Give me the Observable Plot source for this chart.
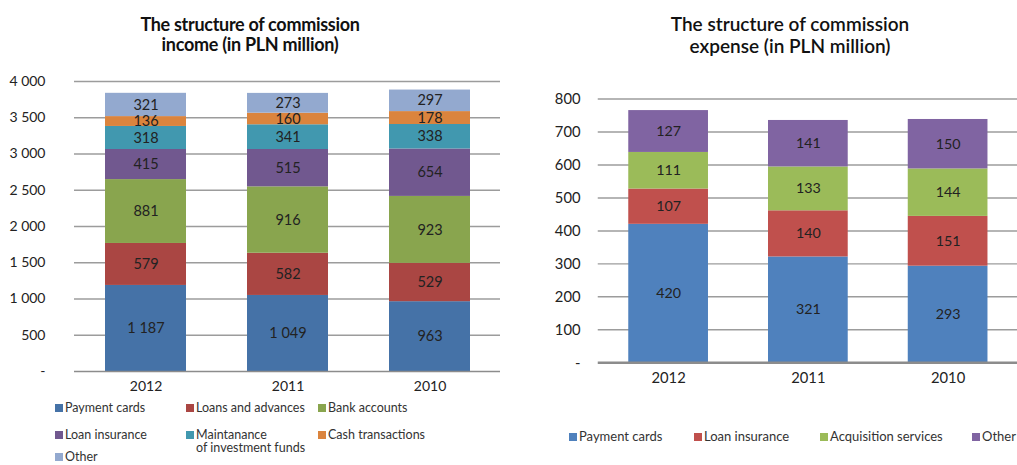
<!DOCTYPE html>
<html><head><meta charset="utf-8">
<script src="https://cdn.jsdelivr.net/npm/d3@7"></script>
<script src="https://cdn.jsdelivr.net/npm/@observablehq/plot@0.6"></script>
<style>
body{margin:0;background:#fff;overflow:hidden;font-family:Lato,sans-serif;}
#wrap{position:relative;width:1017px;height:465px;overflow:hidden;}
.title{position:absolute;top:14px;text-align:center;font-weight:bold;font-size:18px;line-height:20px;color:#111;letter-spacing:-0.3px;}
.chart{position:absolute;top:70px;}
.leg{position:absolute;font-size:12.5px;color:#333;line-height:13px;white-space:nowrap;}
.sw{position:absolute;left:-10px;top:3px;width:8px;height:8px;}
</style></head>
<body>
<div id="wrap">
  <div class="title" style="left:0;width:500px;">The structure of commission<br>income (in PLN million)</div>
  <div class="title" style="left:560px;width:460px;top:13px;font-size:19px;line-height:22px;font-weight:600;letter-spacing:0;">The structure of commission<br>expense (in PLN million)</div>
  <div class="chart" id="left" style="left:0;"></div>
  <div class="chart" id="right" style="left:520px;width:497px;overflow:hidden;"></div>
</div>
<script>
// ---- data ----
const years = ["2012", "2011", "2010"];

const incomeSeries = ["Payment cards", "Loans and advances", "Bank accounts", "Loan insurance", "Maintanance of investment funds", "Cash transactions", "Other"];
const incomeLegendLabels = ["Payment cards", "Loans and advances", "Bank accounts", "Loan insurance", "Maintanance<br>of investment funds", "Cash transactions", "Other"];
const incomeColors = ["#4572A7", "#AA4643", "#89A54E", "#71588F", "#4198AF", "#DB843D", "#93A9CF"];
const incPaymentCards = [1187, 1049, 963];
const incLoansAdvances = [579, 582, 529];
const incBankAccounts = [881, 916, 923];
const incLoanInsurance = [415, 515, 654];
const incInvestmentFunds = [318, 341, 338];
const incCashTransactions = [136, 160, 178];
const incOther = [321, 273, 297];
const incomeTicks = [0, 500, 1000, 1500, 2000, 2500, 3000, 3500, 4000];

const expenseSeries = ["Payment cards", "Loan insurance", "Acquisition services", "Other"];
const expenseColors = ["#4F81BD", "#C0504D", "#9BBB59", "#8064A2"];
const expPaymentCards = [420, 321, 293];
const expLoanInsurance = [107, 140, 151];
const expAcquisition = [111, 133, 144];
const expOther = [127, 141, 150];
const expenseTicks = [0, 100, 200, 300, 400, 500, 600, 700, 800];

// ---- build tidy rows ----
const incomeValues = [incPaymentCards, incLoansAdvances, incBankAccounts, incLoanInsurance, incInvestmentFunds, incCashTransactions, incOther];
const expenseValues = [expPaymentCards, expLoanInsurance, expAcquisition, expOther];
function rows(series, values) {
  const out = [];
  series.forEach((s, i) => years.forEach((y, j) => out.push({series: s, year: y, value: values[i][j]})));
  return out;
}
const incomeRows = rows(incomeSeries, incomeValues);
const expenseRows = rows(expenseSeries, expenseValues);

const fmt = d3.formatLocale({decimal: ".", thousands: "\u00a0", grouping: [3], currency: ["", ""]}).format(",");
const tickFmt = d => d === 0 ? "-" : fmt(d);

function chart(opts) {
  return Plot.plot({
    width: opts.width, height: opts.height,
    marginLeft: opts.marginLeft, marginRight: 0, marginTop: opts.marginTop, marginBottom: opts.marginBottom,
    style: {fontFamily: "Lato, sans-serif", fontSize: opts.fontSize, color: "#222", background: "transparent", overflow: "visible"},
    x: {domain: years, paddingInner: 0.43, paddingOuter: 0.215, label: null, tickSize: 0, tickPadding: 10},
    y: {domain: opts.domain, ticks: opts.ticks, tickFormat: tickFmt, tickSize: 0, tickPadding: opts.tickPadding, label: null},
    color: {domain: opts.series, range: opts.colors},
    marks: [
      Plot.ruleY(opts.ticks.filter(d => d > 0), {stroke: "#9c9c9c", strokeWidth: 1.5}),
      Plot.barY(opts.rows, {x: "year", y: "value", fill: "series"}),
      Plot.text(opts.rows, Plot.stackY({x: "year", y: "value", z: "series", text: d => fmt(d.value), fill: "#222", fontSize: 14.5})),
      Plot.ruleY([0], {stroke: "#8c8c8c", strokeWidth: opts.baseWidth})
    ]
  });
}

document.getElementById("left").append(chart({
  width: 500, height: 331, marginLeft: 74, marginTop: 11, marginBottom: 30, fontSize: "14px",
  domain: [0, 4000], ticks: incomeTicks, tickPadding: 29,
  series: incomeSeries, colors: incomeColors, rows: incomeRows, baseWidth: 1.5
}));
document.getElementById("right").append(chart({
  width: 505, height: 327, marginLeft: 79, marginTop: 29, marginBottom: 30, fontSize: "15px",
  domain: [0, 800], ticks: expenseTicks, tickPadding: 18,
  series: expenseSeries, colors: expenseColors, rows: expenseRows, baseWidth: 2.5
}));

// ---- legends ----
const wrap = document.getElementById("wrap");
function legendItem(label, color, x, y, size) {
  const d = document.createElement("div");
  d.className = "leg";
  d.style.left = x + "px";
  d.style.top = y + "px";
  if (size) d.style.fontSize = size;
  d.innerHTML = `<span class="sw" style="background:${color}"></span>${label}`;
  wrap.append(d);
}
const incPos = [[65, 401], [196, 401], [328, 401], [65, 428], [196, 428], [328, 428], [65, 450]];
incomeLegendLabels.forEach((l, i) => legendItem(l, incomeColors[i], incPos[i][0], incPos[i][1]));
const expPos = [[579, 430], [704, 430], [830, 430], [982, 430]];
expenseSeries.forEach((l, i) => legendItem(l, expenseColors[i], expPos[i][0], expPos[i][1], "13px"));
</script>
</body></html>
